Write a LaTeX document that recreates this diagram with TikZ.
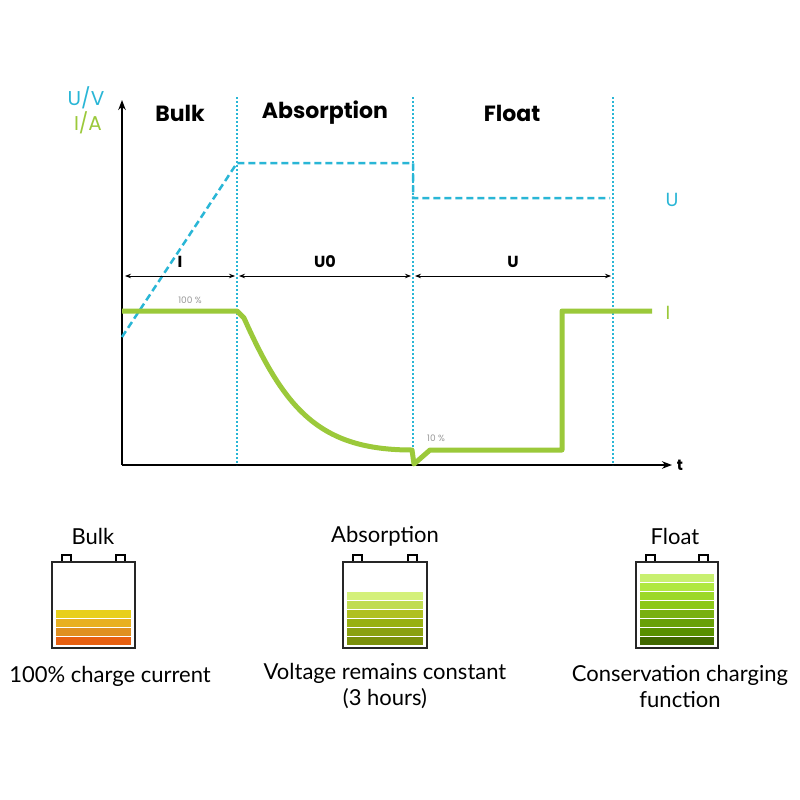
\documentclass[tikz,border=0pt]{standalone}
\usepackage{fontspec}
\setmainfont{Lato}
\newfontfamily\pop{Poppins}
\usetikzlibrary{arrows.meta}
\definecolor{cy}{HTML}{29B6D6}
\definecolor{gr}{HTML}{9BC93A}
\tikzset{
 vline/.style={cy,line width=1.1pt,dash pattern=on 2pt off 2pt},
 volt/.style={cy,line width=2.5pt,dash pattern=on 7pt off 4pt},
 cur/.style={gr,line width=5pt,line join=round},
 dim/.style={line width=0.8pt,{Stealth[length=6pt]}-{Stealth[length=6pt]}},
 head/.style={font=\pop\fontsize{22}{24}\selectfont\bfseries},
 lab/.style={font=\fontsize{22}{26}\selectfont},
 batt/.style={line width=2pt,draw=black!85},
}
\begin{document}
\begin{tikzpicture}[x=1pt,y=-1pt]
\useasboundingbox (0,0) rectangle (800,800);
\fill[white] (0,0) rectangle (800,800);
% axes
\coordinate (O) at (122,465);
\coordinate (Ytop) at (122,100);
\coordinate (Xend) at (672,465);
\draw[line width=1.5pt,-{Stealth[length=10pt]}] (O) -- (Ytop);
\draw[line width=1.5pt,-{Stealth[length=10pt]}] (O) -- (Xend);
\node[font=\pop\bfseries\fontsize{15}{16}\selectfont] (t) at (680,465) {t};
\node[font=\pop\fontsize{20}{22}\selectfont,text=cy] (uv) at (86,98) {U/V};
\node[font=\pop\fontsize{20}{22}\selectfont,text=gr] (ia) at (88,123) {I/A};
\node[head] (h1) at (180,113) {Bulk};
\node[head] (h2) at (325,113) {Absorption};
\node[head] (h3) at (512,113) {Float};
% phase lines
\foreach \x/\n in {237/a,413/b,613/c}{
 \coordinate (\n1) at (\x,97); \coordinate (\n2) at (\x,465);
 \draw[vline] (\n1) -- (\n2);}
% voltage
\coordinate (v0) at (122,337); \coordinate (v1) at (237,163); \coordinate (v2) at (413,163);
\coordinate (v3) at (413,198); \coordinate (v4) at (610,198);
\draw[volt] (v0) -- (v1) -- (v2) -- (v3) -- (v4);
\node[font=\pop\fontsize{19}{20}\selectfont,text=cy] (ul) at (672,200) {U};
% dimension arrows
\foreach \a/\b/\l/\m in {125/235/I/d1,239/411/U0/d2,415/611/U/d3}{
 \coordinate (\m a) at (\a,276); \coordinate (\m b) at (\b,276);
 \draw[dim] (\m a) -- (\m b);
 \node[font=\pop\bfseries\fontsize{16}{16}\selectfont] (\m l) at ({(\a+\b)/2},262) {\l};}
% current
\coordinate (c0) at (122,311); \coordinate (c1) at (237,311); \coordinate (c1b) at (244,318);
\coordinate (c2) at (412,450); \coordinate (c3) at (414,464); \coordinate (c4) at (430,450);
\coordinate (c5) at (562,450); \coordinate (c6) at (562,311); \coordinate (c7) at (652,311);
\draw[cur] (c0) -- (c1) -- (c1b) .. controls (285,410) and (320,450) .. (c2) -- (c3) -- (c4) -- (c5) -- (c6) -- (c7);
\node[font=\pop\fontsize{19}{20}\selectfont,text=gr] (il) at (668,313) {I};
\node[font=\pop\fontsize{9}{10}\selectfont,text=black!40] (p1) at (190,300) {100 \%};
\node[font=\pop\fontsize{9}{10}\selectfont,text=black!40] (p2) at (436,438) {10 \%};
% batteries
\newcommand\battery[4]{%
 \draw[line width=1.2pt] (#1+10,562) rectangle (#1+19,555);
 \draw[line width=1.2pt] (#2-19,562) rectangle (#2-10,555);
 \foreach \c [count=\i] in {#4}{
   \definecolor{tmpc}{HTML}{\c}
   \fill[tmpc] (#1+4,{645-9*\i+1}) rectangle (#2-4,{645-9*(\i-1)});}
 \draw[batt,fill=none] (#1,562) rectangle node[coordinate](#3){} (#2,648);
}
\battery{52}{135}{b1}{E86010,E09020,E8B020,E8CF1A}
\battery{343}{427}{b2}{7A900A,8AA010,98B010,B0C020,C0DC50,D4F07A}
\battery{636}{718}{b3}{406800,589000,68A008,78B010,8CC818,9CD828,B0E840,C8F070}
\node[lab] (t1) at (93,536) {Bulk};
\node[lab] (t2) at (385,536) {Absorption};
\node[lab] (t3) at (675,536) {Float};
\node[lab] (c1l) at (110,676) {100\% charge current};
\node[lab,align=center] (c2l) at (385,686) {Voltage remains constant\\(3 hours)};
\node[lab,align=center] (c3l) at (680,686) {Conservation charging\\function};
\end{tikzpicture}
\end{document}
